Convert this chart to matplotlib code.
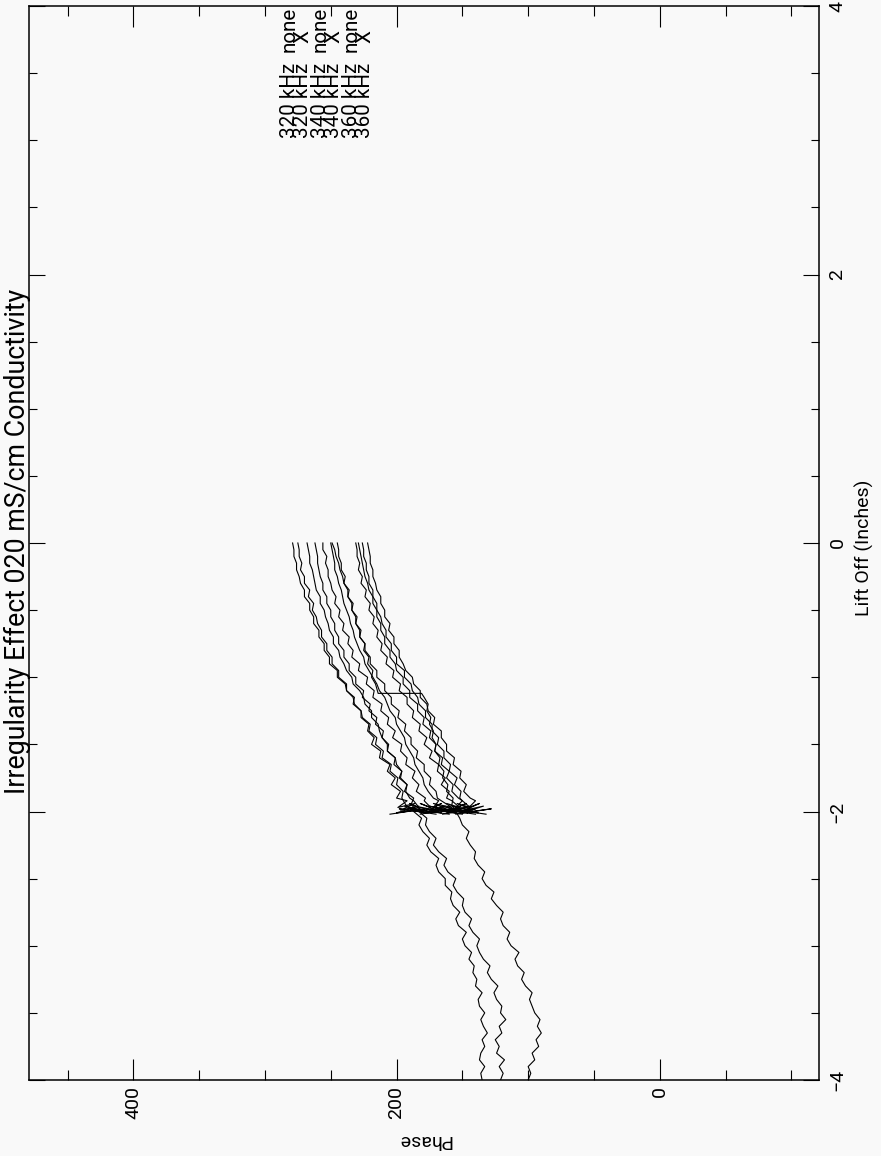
import numpy as np
import matplotlib
matplotlib.use("Agg")
import matplotlib.pyplot as plt
from matplotlib.ticker import MultipleLocator

plt.rcParams['font.family'] = ['Roboto', 'DejaVu Sans']

TITLE = "Irregularity Effect 020 mS/cm Conductivity"
X_LABEL = "Lift Off (Inches)"
Y_LABEL = "Phase"
LEGEND_FREQS = ["320 kHz", "320 kHz", "340 kHz", "340 kHz", "360 kHz", "360 kHz"]
LEGEND_TAGS = ["none", "X", "none", "X", "none", "X"]

# lift-off sample positions (inches)
LIFT_LONG = np.round(np.arange(-4.0, 0.0001, 0.05), 2)            # 81 samples
LIFT_SHORT = [-2.02, -1.98, -2.01, -1.96, -1.99, -1.94, -1.97, -1.92] + \
    list(np.round(np.arange(-1.90, 0.0001, 0.05), 2))              # 47 samples

# full sweeps from -4 to 0 in
PHASE_C = [135, 136, 133, 137, 136, 133, 135, 131, 134, 136,
           133, 137, 138, 135, 140, 139, 142, 141, 145, 143,
           148, 150, 147, 153, 155, 152, 157, 159, 158, 163,
           163, 168, 170, 168, 174, 177, 175, 180, 183, 181, 187,
           193, 196, 195, 200, 199, 205, 204, 211, 210, 216,
           215, 221, 220, 226, 227, 232, 233, 238, 239, 245,
           245, 251, 251, 255, 255, 259, 259, 263, 263, 266,
           266, 270, 270, 273, 274, 276, 276, 278, 278, 279]
PHASE_B = [121, 119, 122, 118, 124, 122, 125, 120, 122, 117,
           121, 120, 124, 126, 123, 128, 131, 129, 134, 137,
           139, 137, 142, 145, 143, 148, 150, 149, 154, 157,
           155, 161, 164, 162, 168, 172, 170, 175, 178, 177, 183,
           189, 187, 194, 192, 198, 196, 202, 201, 207, 206,
           211, 210, 216, 215, 221, 220, 226, 225, 231, 231,
           236, 236, 240, 240, 244, 244, 247, 247, 250, 250,
           253, 253, 256, 256, 258, 259, 260, 260, 261, 262]

# sweep with a phase jump near -1.12 in
LIFT_A = list(LIFT_LONG[:41]) + [
    -1.95, -1.90, -1.85, -1.80, -1.75, -1.70, -1.65, -1.60, -1.55, -1.50,
    -1.45, -1.40, -1.35, -1.30, -1.25, -1.20, -1.15, -1.12, -1.12,
    -1.05, -1.00, -0.95, -0.90, -0.85, -0.80, -0.75, -0.70, -0.65, -0.60,
    -0.55, -0.50, -0.45, -0.40, -0.35, -0.30, -0.25, -0.20, -0.15, -0.10,
    -0.05, 0.00]
PHASE_A = [100, 98, 100, 95, 97, 92, 94, 90, 93, 91,
           95, 97, 99, 97, 102, 105, 103, 108, 110, 107,
           113, 116, 114, 119, 121, 119, 124, 128, 126, 132,
           135, 133, 138, 141, 140, 144, 147, 145, 150, 152, 155,
           158, 157, 162, 161, 165, 164, 168, 167, 171, 170,
           173, 172, 175, 174, 177, 176, 179, 181, 214,
           216, 219, 218, 222, 221, 225, 224, 228, 228, 231,
           231, 234, 234, 237, 237, 240, 241, 243, 244, 246,
           247, 249]

# sweeps starting at -2 in
PHASE_S = [
    [205, 178, 200, 183, 197, 186, 199, 192,
     200, 197, 204, 201, 207, 205, 213, 212, 219, 217, 222, 221, 227, 227, 233, 232,
     238, 238, 244, 244, 249, 249, 253, 253, 257, 257, 260, 261, 264, 263, 267, 266,
     270, 270, 273, 272, 274, 274, 275],
    [170, 198, 176, 194, 180, 190, 183, 187,
     190, 193, 192, 197, 196, 200, 201, 207, 207, 211, 213, 214, 219, 219, 224, 225,
     228, 233, 234, 238, 240, 243, 244, 248, 248, 251, 252, 254, 255, 258, 258, 261,
     262, 263, 264, 266, 266, 267, 268],
    [160, 190, 166, 186, 170, 182, 174, 179,
     178, 185, 183, 188, 186, 193, 192, 197, 196, 203, 201, 207, 206, 212, 211, 218,
     217, 223, 222, 229, 228, 234, 233, 237, 236, 241, 240, 244, 243, 247, 246, 249,
     250, 252, 252, 254, 253, 256, 256],
    [182, 158, 178, 163, 175, 166, 172, 168,
     172, 176, 179, 180, 183, 186, 187, 190, 193, 194, 197, 200, 201, 205, 207, 209,
     213, 215, 218, 221, 224, 225, 228, 230, 232, 233, 235, 236, 238, 240, 241, 242,
     244, 245, 247, 247, 248, 249, 250],
    [150, 178, 155, 175, 160, 172, 158, 166,
     169, 170, 175, 174, 179, 179, 185, 184, 189, 189, 194, 193, 199, 198, 204, 204,
     209, 209, 215, 215, 220, 220, 224, 224, 228, 227, 231, 230, 234, 233, 237, 236,
     240, 239, 242, 242, 244, 244, 245],
    [140, 170, 146, 166, 150, 162, 152, 158,
     162, 160, 166, 163, 169, 168, 175, 173, 179, 177, 183, 182, 188, 187, 192, 192,
     198, 197, 203, 202, 208, 207, 212, 211, 215, 214, 218, 217, 221, 220, 224, 223,
     227, 226, 229, 228, 230, 230, 231],
    [165, 140, 162, 144, 158, 147, 155, 150,
     153, 158, 157, 162, 160, 166, 165, 171, 170, 175, 174, 180, 179, 184, 184, 190,
     190, 195, 195, 200, 201, 205, 205, 209, 209, 212, 212, 215, 215, 218, 218, 221,
     222, 224, 225, 226, 227, 228, 229],
    [132, 160, 138, 158, 142, 154, 144, 150,
     152, 151, 156, 154, 160, 159, 164, 164, 169, 168, 173, 173, 178, 178, 183, 184,
     188, 189, 194, 194, 200, 200, 204, 204, 208, 208, 211, 212, 215, 215, 218, 218,
     221, 221, 223, 223, 225, 225, 226],
    [155, 128, 150, 134, 148, 137, 145, 140,
     144, 149, 147, 152, 151, 157, 156, 162, 162, 166, 166, 172, 171, 176, 177, 182,
     182, 187, 188, 193, 195, 198, 198, 202, 202, 206, 205, 209, 209, 212, 212, 215,
     216, 218, 218, 220, 220, 221, 222],
]

W, H = 881, 1156
BG = '#f9f9f9'
fig = plt.figure(figsize=(W / 100, H / 100), dpi=100, facecolor=BG)
L, R, T, B = 29, 819, 6, 1080
ax = fig.add_axes([L / W, 1 - B / H, (R - L) / W, (B - T) / H], facecolor=BG)

line_kw = dict(color='black', lw=0.8)
ax.plot(PHASE_C, LIFT_LONG, **line_kw)
ax.plot(PHASE_B, LIFT_LONG, **line_kw)
ax.plot(PHASE_A, LIFT_A, **line_kw)
for ph in PHASE_S:
    ax.plot(ph, LIFT_SHORT, **line_kw)

# phase runs right-to-left, lift-off bottom-to-top (page turned sideways)
ax.set_xlim(479.3, -121.0)
ax.set_ylim(-4, 4)
ax.xaxis.set_major_locator(MultipleLocator(200))
ax.xaxis.set_minor_locator(MultipleLocator(50))
ax.yaxis.set_major_locator(MultipleLocator(2))
ax.yaxis.set_minor_locator(MultipleLocator(0.5))

for s in ax.spines.values():
    s.set_linewidth(1.1)

ax.tick_params(axis='x', which='both', direction='in', top=True, bottom=True,
               labelbottom=True, labeltop=False, labelrotation=90,
               labelsize=14, pad=4.3, width=0.8)
ax.tick_params(axis='x', which='major', length=15)
ax.tick_params(axis='x', which='minor', length=7.2)
ax.tick_params(axis='y', which='both', direction='in', left=True, right=True,
               labelleft=False, labelright=True, labelrotation=90,
               labelsize=14, pad=6.8, width=0.8)
ax.tick_params(axis='y', which='major', length=11.5)
ax.tick_params(axis='y', which='minor', length=5.5)
for lbl in ax.get_yticklabels():
    lbl.set_va('center')

renderer = fig.canvas.get_renderer()


def fit_size(text, target_px, base=12):
    t = fig.text(0, 0, text, fontsize=base)
    w = t.get_window_extent(renderer).width
    t.remove()
    return base * target_px / w


def put(xp, yp, s, **kw):
    return fig.text(xp / W, 1 - yp / H, s, **kw)


# title along the left edge
put(25, 541.5, TITLE, fontsize=fit_size(TITLE, 503), rotation=90,
    rotation_mode='anchor', ha='center', va='baseline')

# axis titles
put(870, 480, X_LABEL, fontsize=14, rotation=90,
    rotation_mode='anchor', ha='right', va='baseline')
put(424, 1135, Y_LABEL, fontsize=14, rotation=180,
    rotation_mode='anchor', ha='center', va='baseline')

# legend block near the top edge
leg_size = fit_size("320 kHz", 75)
baselines = [295, 308, 326, 339, 357, 370]
for bx, freq, tag in zip(baselines, LEGEND_FREQS, LEGEND_TAGS):
    put(bx, 138, freq, fontsize=leg_size, rotation=90,
        rotation_mode='anchor', ha='left', va='baseline')
    put(bx, 52 if tag == "none" else 43, tag, fontsize=leg_size, rotation=90,
        rotation_mode='anchor', ha='left', va='baseline')

fig.savefig("out.png", dpi=100, facecolor=BG)
